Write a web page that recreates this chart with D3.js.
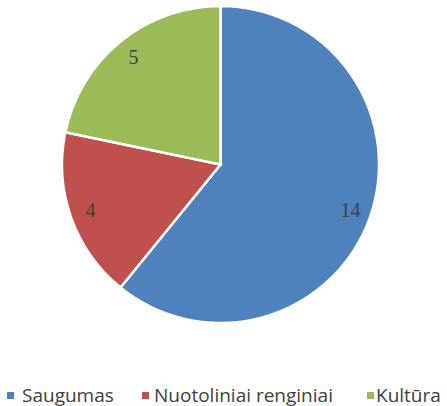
<!DOCTYPE html>
<html>
<head>
<meta charset="utf-8">
<script src="https://cdn.jsdelivr.net/npm/d3@7"></script>
<style>
  body { margin: 0; background: #fff; }
  svg { display: block; }
</style>
</head>
<body>
<div id="chart"></div>
<script>
const categories = ['Saugumas', 'Nuotoliniai renginiai', 'Kultūra'];
const values = [14, 4, 5];
const colors = ['#4F81BD', '#C0504D', '#9BBB59'];

const width = 447;
const height = 406;
const cx = 220.5;
const cy = 164.5;
const radius = 158.5;

const data = categories.map((c, i) => ({ name: c, value: values[i], color: colors[i] }));

const svg = d3
  .select('#chart')
  .append('svg')
  .attr('width', width)
  .attr('height', height);

const pie = d3.pie().sort(null).value((d) => d.value);
const arcs = pie(data);

const arc = d3.arc().innerRadius(0).outerRadius(radius);
const labelArc = d3.arc().innerRadius(138).outerRadius(138);

const g = svg.append('g').attr('transform', `translate(${cx},${cy})`);

g.selectAll('path')
  .data(arcs)
  .join('path')
  .attr('d', arc)
  .attr('fill', (d) => d.data.color)
  .attr('stroke', '#fff')
  .attr('stroke-width', 2.5)
  .attr('stroke-linejoin', 'miter');

g.selectAll('text')
  .data(arcs)
  .join('text')
  .attr('transform', (d) => `translate(${labelArc.centroid(d)})`)
  .attr('text-anchor', 'middle')
  .attr('dy', '0.33em')
  .attr('font-family', 'Liberation Serif, serif')
  .attr('font-size', '20px')
  .attr('fill', '#404040')
  .text((d) => d.data.value);

// legend (marker x, text x)
const markerX = [7, 142, 367];
const labelX = [22, 154, 376];

const legend = svg.append('g').attr('class', 'legend');

legend
  .selectAll('rect')
  .data(data)
  .join('rect')
  .attr('x', (d, i) => markerX[i])
  .attr('y', 392)
  .attr('width', 7)
  .attr('height', 7)
  .attr('fill', (d) => d.color);

legend
  .selectAll('text')
  .data(data)
  .join('text')
  .attr('x', (d, i) => labelX[i])
  .attr('y', 401.5)
  .attr('font-family', 'Open Sans, sans-serif')
  .attr('font-size', '19px')
  .attr('fill', '#404040')
  .text((d) => d.name);
</script>
</body>
</html>
